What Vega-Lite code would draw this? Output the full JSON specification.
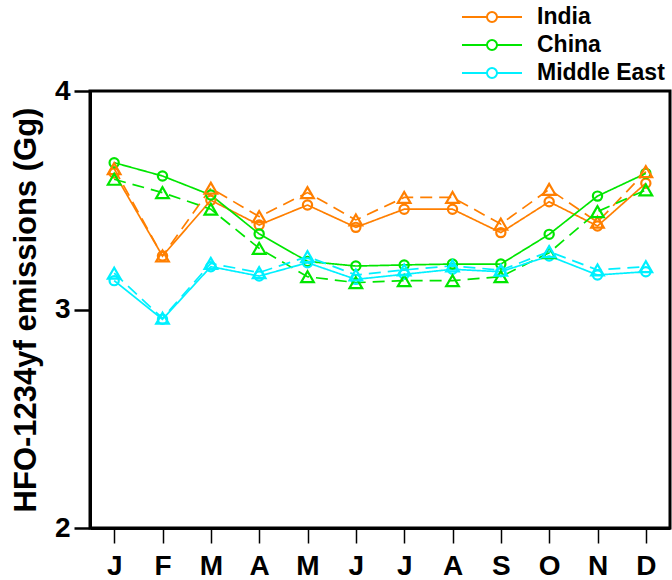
{
  "$schema": "https://vega.github.io/schema/vega-lite/v6.json",
  "width": 580,
  "height": 437,
  "autosize": "none",
  "padding": {"left": 90, "top": 91, "right": 2, "bottom": 52},
  "config": {
    "font": "Liberation Sans",
    "view": {"stroke": "black", "strokeWidth": 3},
    "axis": {"grid": false, "domainColor": "black", "tickColor": "black", "labelColor": "black", "titleColor": "black", "domainWidth": 3}
  },
  "data": {
    "values": [
      {"region": "India", "month": 1, "type": "solid", "value": 3.625},
      {"region": "India", "month": 2, "type": "solid", "value": 3.245},
      {"region": "India", "month": 3, "type": "solid", "value": 3.5},
      {"region": "India", "month": 4, "type": "solid", "value": 3.387},
      {"region": "India", "month": 5, "type": "solid", "value": 3.478},
      {"region": "India", "month": 6, "type": "solid", "value": 3.376},
      {"region": "India", "month": 7, "type": "solid", "value": 3.459},
      {"region": "India", "month": 8, "type": "solid", "value": 3.459},
      {"region": "India", "month": 9, "type": "solid", "value": 3.352},
      {"region": "India", "month": 10, "type": "solid", "value": 3.493},
      {"region": "India", "month": 11, "type": "solid", "value": 3.382},
      {"region": "India", "month": 12, "type": "solid", "value": 3.578},
      {"region": "India", "month": 1, "type": "dashed", "value": 3.645},
      {"region": "India", "month": 2, "type": "dashed", "value": 3.245},
      {"region": "India", "month": 3, "type": "dashed", "value": 3.555},
      {"region": "India", "month": 4, "type": "dashed", "value": 3.425},
      {"region": "India", "month": 5, "type": "dashed", "value": 3.535},
      {"region": "India", "month": 6, "type": "dashed", "value": 3.41},
      {"region": "India", "month": 7, "type": "dashed", "value": 3.513},
      {"region": "India", "month": 8, "type": "dashed", "value": 3.513},
      {"region": "India", "month": 9, "type": "dashed", "value": 3.391},
      {"region": "India", "month": 10, "type": "dashed", "value": 3.55},
      {"region": "India", "month": 11, "type": "dashed", "value": 3.4},
      {"region": "India", "month": 12, "type": "dashed", "value": 3.631},
      {"region": "China", "month": 1, "type": "solid", "value": 3.672},
      {"region": "China", "month": 2, "type": "solid", "value": 3.611},
      {"region": "China", "month": 3, "type": "solid", "value": 3.524},
      {"region": "China", "month": 4, "type": "solid", "value": 3.346},
      {"region": "China", "month": 5, "type": "solid", "value": 3.22},
      {"region": "China", "month": 6, "type": "solid", "value": 3.199},
      {"region": "China", "month": 7, "type": "solid", "value": 3.204},
      {"region": "China", "month": 8, "type": "solid", "value": 3.208},
      {"region": "China", "month": 9, "type": "solid", "value": 3.208},
      {"region": "China", "month": 10, "type": "solid", "value": 3.344},
      {"region": "China", "month": 11, "type": "solid", "value": 3.519},
      {"region": "China", "month": 12, "type": "solid", "value": 3.623},
      {"region": "China", "month": 1, "type": "dashed", "value": 3.596},
      {"region": "China", "month": 2, "type": "dashed", "value": 3.535},
      {"region": "China", "month": 3, "type": "dashed", "value": 3.459},
      {"region": "China", "month": 4, "type": "dashed", "value": 3.28},
      {"region": "China", "month": 5, "type": "dashed", "value": 3.15},
      {"region": "China", "month": 6, "type": "dashed", "value": 3.123},
      {"region": "China", "month": 7, "type": "dashed", "value": 3.132},
      {"region": "China", "month": 8, "type": "dashed", "value": 3.132},
      {"region": "China", "month": 9, "type": "dashed", "value": 3.15},
      {"region": "China", "month": 10, "type": "dashed", "value": 3.26},
      {"region": "China", "month": 11, "type": "dashed", "value": 3.448},
      {"region": "China", "month": 12, "type": "dashed", "value": 3.547},
      {"region": "Middle East", "month": 1, "type": "solid", "value": 3.132},
      {"region": "Middle East", "month": 2, "type": "solid", "value": 2.955},
      {"region": "Middle East", "month": 3, "type": "solid", "value": 3.196},
      {"region": "Middle East", "month": 4, "type": "solid", "value": 3.153},
      {"region": "Middle East", "month": 5, "type": "solid", "value": 3.214},
      {"region": "Middle East", "month": 6, "type": "solid", "value": 3.138},
      {"region": "Middle East", "month": 7, "type": "solid", "value": 3.161},
      {"region": "Middle East", "month": 8, "type": "solid", "value": 3.184},
      {"region": "Middle East", "month": 9, "type": "solid", "value": 3.173},
      {"region": "Middle East", "month": 10, "type": "solid", "value": 3.245},
      {"region": "Middle East", "month": 11, "type": "solid", "value": 3.158},
      {"region": "Middle East", "month": 12, "type": "solid", "value": 3.173},
      {"region": "Middle East", "month": 1, "type": "dashed", "value": 3.166},
      {"region": "Middle East", "month": 2, "type": "dashed", "value": 2.96},
      {"region": "Middle East", "month": 3, "type": "dashed", "value": 3.211},
      {"region": "Middle East", "month": 4, "type": "dashed", "value": 3.169},
      {"region": "Middle East", "month": 5, "type": "dashed", "value": 3.242},
      {"region": "Middle East", "month": 6, "type": "dashed", "value": 3.158},
      {"region": "Middle East", "month": 7, "type": "dashed", "value": 3.181},
      {"region": "Middle East", "month": 8, "type": "dashed", "value": 3.2},
      {"region": "Middle East", "month": 9, "type": "dashed", "value": 3.18},
      {"region": "Middle East", "month": 10, "type": "dashed", "value": 3.265},
      {"region": "Middle East", "month": 11, "type": "dashed", "value": 3.181},
      {"region": "Middle East", "month": 12, "type": "dashed", "value": 3.196}
    ]
  },
  "encoding": {
    "x": {
      "field": "month",
      "type": "quantitative",
      "scale": {"domain": [0.5, 12.5], "nice": false, "zero": false},
      "axis": {
        "title": null,
        "values": [1, 2, 3, 4, 5, 6, 7, 8, 9, 10, 11, 12],
        "labelExpr": "['J','F','M','A','M','J','J','A','S','O','N','D'][datum.value-1]",
        "tickSize": 15,
        "tickWidth": 1.5,
        "labelFontSize": 28,
        "labelFontWeight": "bold",
        "labelPadding": 9,
        "labelFlush": false,
        "labelOverlap": false
      }
    },
    "y": {
      "field": "value",
      "type": "quantitative",
      "scale": {"domain": [2, 4], "nice": false, "zero": false},
      "axis": {
        "title": "HFO-1234yf emissions (Gg)",
        "titleFontSize": 31,
        "titleFontWeight": "bold",
        "titlePadding": 12,
        "values": [2, 3, 4],
        "labelExpr": "'' + round(datum.value)",
        "tickSize": 16,
        "tickWidth": 2.5,
        "labelFontSize": 28,
        "labelFontWeight": "bold",
        "labelPadding": 4,
        "labelFlush": false,
        "labelOverlap": false
      }
    },
    "color": {
      "field": "region",
      "type": "nominal",
      "scale": {"domain": ["India", "China", "Middle East"], "range": ["#FF7F00", "#00E600", "#00F0FF"]},
      "legend": {
        "title": null,
        "orient": "none",
        "legendX": 371,
        "legendY": -84,
        "symbolType": "M-1,0L-0.167,0M0.167,0L1,0M-0.167,0A0.167,0.167,0,1,1,0.167,0A0.167,0.167,0,1,1,-0.167,0",
        "symbolSize": 3600,
        "symbolStrokeWidth": 2,
        "symbolFillColor": "white",
        "labelFontSize": 23,
        "labelFontWeight": "bold",
        "labelColor": "black",
        "labelOffset": 14,
        "clipHeight": 20,
        "rowPadding": 5
      }
    }
  },
  "layer": [
    {
      "mark": {"type": "line", "strokeWidth": 1.7},
      "encoding": {
        "strokeDash": {
          "field": "type",
          "type": "nominal",
          "scale": {"domain": ["solid", "dashed"], "range": [[1, 0], [12, 7]]},
          "legend": null
        },
        "detail": {"field": "type"}
      }
    },
    {
      "transform": [{"filter": "datum.type == 'solid'"}],
      "mark": {"type": "point", "shape": "circle", "filled": false, "size": 85, "strokeWidth": 2.2, "opacity": 1}
    },
    {
      "transform": [{"filter": "datum.type == 'dashed'"}],
      "mark": {"type": "point", "shape": "triangle-up", "filled": false, "size": 160, "strokeWidth": 2.2, "opacity": 1}
    }
  ]
}
